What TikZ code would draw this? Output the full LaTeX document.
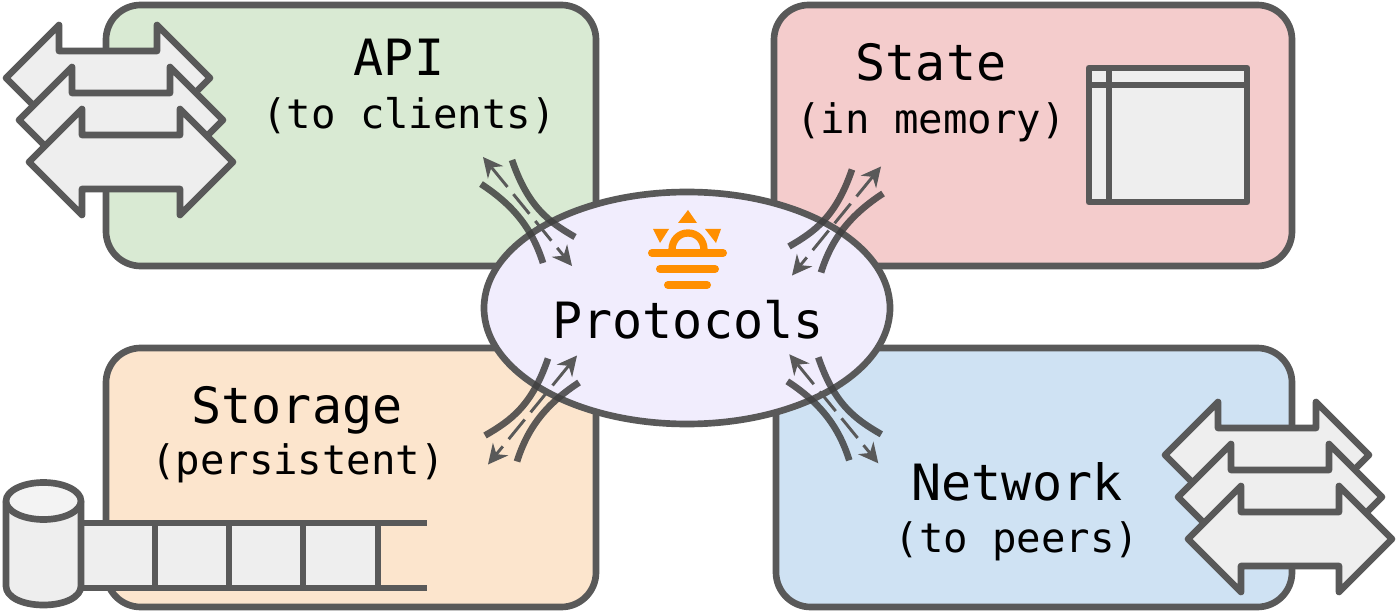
\documentclass[tikz,border=0pt]{standalone}
\usepackage{fontspec}
\setmonofont{DejaVu Sans Mono}
\usetikzlibrary{arrows.meta,shapes.geometric}
\definecolor{edgegrey}{HTML}{595959}
\definecolor{fillgrey}{HTML}{EEEEEE}
\definecolor{greenbox}{HTML}{D9EAD3}
\definecolor{redbox}{HTML}{F4CCCC}
\definecolor{orangebox}{HTML}{FCE5CD}
\definecolor{bluebox}{HTML}{CFE2F3}
\definecolor{lilac}{HTML}{F1EDFD}
\definecolor{iconorange}{HTML}{FF8F00}
\tikzset{
  panel/.style={draw=edgegrey,line width=5pt,rounded corners=26pt},
  part/.style={draw=edgegrey,fill=fillgrey,line width=5pt,line join=round},
  rail/.style={draw=edgegrey,line width=5pt},
  bend line/.style={draw=black!75!white,draw opacity=.85,line width=5pt},
  data flow/.style={draw=edgegrey,line width=2.2pt,dash pattern=on 19pt off 7pt,
    {Stealth[length=15pt,width=15pt,inset=5pt,line width=0pt]}-{Stealth[length=15pt,width=15pt,inset=5pt,line width=0pt]}},
  bigtext/.style={font=\ttfamily\fontsize{37.5pt}{40pt}\selectfont,anchor=base,inner sep=0pt},
  subtext/.style={font=\ttfamily\fontsize{30.5pt}{33pt}\selectfont,anchor=base,inner sep=0pt},
  icon/.style={fill=iconorange,draw=none},
  iconbar/.style={draw=iconorange,line width=6pt,line cap=round},
}
\newcommand{\blockarrow}[2]{%
  \draw[part,shift={(#1,#2)}] (0,0) -- (53,-53) -- (53,-27) -- (151,-27) -- (151,-53) -- (204,0)
    -- (151,53) -- (151,27) -- (53,27) -- (53,53) -- cycle;}
\newcommand{\linkgroup}[2]{%
  \begin{scope}[#2]
    \coordinate (#1a1) at (512,160);
    \coordinate (#1a2) at (575,237);
    \coordinate (#1b1) at (481,184);
    \coordinate (#1b2) at (543,263);
    \coordinate (#1f1) at (483,157);
    \coordinate (#1f2) at (572,266);
    \draw[data flow] (#1f1) -- (#1f2);
    \draw[bend line] (#1a1) .. controls (528,207) and (549,222) .. (#1a2);
    \draw[bend line] (#1b1) .. controls (513,205) and (532,228) .. (#1b2);
  \end{scope}}
\begin{document}
\begin{tikzpicture}[x=0.75pt,y=-0.75pt]
\useasboundingbox (0,0) rectangle (1396,613);
\draw[panel,fill=greenbox] (106,5) rectangle (596,266);
\draw[panel,fill=redbox] (774,5) rectangle (1292,266);
\draw[panel,fill=orangebox] (106,348) rectangle (596,607);
\draw[panel,fill=bluebox] (776,348) rectangle (1292,607);
\node[draw=edgegrey,fill=lilac,line width=5pt,ellipse,minimum width=304.5pt,minimum height=174pt,inner sep=0pt] (hub) at (687,308) {};
\blockarrow{6}{78}
\blockarrow{19}{120}
\blockarrow{29}{162}
\blockarrow{1165}{455}
\blockarrow{1178}{497}
\blockarrow{1188}{539}
\draw[part] (1089,68) rectangle (1247,202);
\draw[rail] (1109,68) -- (1109,202);
\draw[rail] (1089,85) -- (1247,85);
\fill[fillgrey] (81,523) rectangle (378,588);
\draw[rail] (81,523) -- (427,523);
\draw[rail] (81,588) -- (427,588);
\foreach \vx in {155,229,303,378} \draw[rail] (\vx,523) -- (\vx,588);
\draw[part] (6,502) -- (6,586) .. controls (6,597) and (22,605) .. (43.5,605)
   .. controls (65,605) and (81,597) .. (81,586) -- (81,502) -- cycle;
\draw[part,fill=fillgrey!70!white] (43.5,501) ellipse [x radius=37.5,y radius=18.5];
\linkgroup{tl}{}
\linkgroup{tr}{shift={(1364,9.5)},xscale=-1}
\linkgroup{bl}{shift={(1060,198.5)},xscale=-1}
\linkgroup{br}{shift={(306.3,197.3)}}
\fill[icon] (678,223) -- (697,223) -- (688,210) -- cycle;
\fill[icon] (653,229) -- (669,229) -- (660,243) -- cycle;
\fill[icon] (705,229) -- (721,229) -- (716,243) -- cycle;
\draw[draw=iconorange,line width=5.5pt] (672,252) -- (672,250) .. controls (672,240) and (679,233) .. (688,233) .. controls (697,233) and (704,240) .. (704,250) -- (704,252);
\draw[iconbar] (652,253) -- (723,253);
\draw[iconbar] (660,269) -- (715,269);
\draw[iconbar] (668,285) -- (707,285);
\node[bigtext] (protocols) at (688,338) {Protocols};
\node[bigtext] (api) at (399,76) {API};
\node[subtext] (apisub) at (409,129) {(to clients)};
\node[bigtext] (state) at (931,81) {State};
\node[subtext] (statesub) at (931,134) {(in memory)};
\node[bigtext] (storage) at (297,423) {Storage};
\node[subtext] (storagesub) at (298,474) {(persistent)};
\node[bigtext] (network) at (1017,500) {Network};
\node[subtext] (networksub) at (1017,552) {(to peers)};
\end{tikzpicture}
\end{document}
